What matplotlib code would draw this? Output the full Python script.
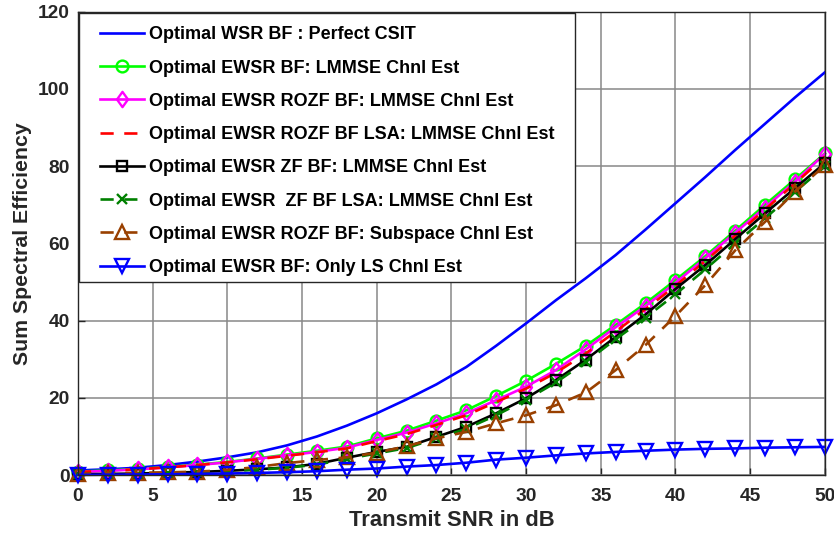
import matplotlib
matplotlib.use("Agg")
import matplotlib.pyplot as plt
from matplotlib.lines import Line2D
from matplotlib.legend_handler import HandlerLine2D
from matplotlib.patches import Rectangle
from matplotlib.path import Path
import numpy as np

plt.rcParams['font.family'] = ['Liberation Sans', 'DejaVu Sans']
plt.rcParams['font.weight'] = 'bold'

snr_db = list(range(0, 51, 2))

perfect_csit = [1.2, 1.5, 1.9, 2.6, 3.5, 4.6, 5.9, 7.7, 10.0, 12.8, 16.0, 19.6, 23.5,
                28.0, 33.5, 39.3, 45.3, 51.0, 57.0, 63.6, 70.4, 77.2, 84.2, 91.0, 97.8, 104.3]
ewsr_bf_lmmse = [0.9, 1.2, 1.6, 2.1, 2.7, 3.4, 4.3, 5.3, 6.3, 7.4, 9.5, 11.5, 14.1,
                 16.8, 20.5, 24.4, 28.8, 33.5, 38.9, 44.5, 50.5, 56.7, 63.3, 70.0, 76.6, 83.3]
ewsr_rozf_lmmse = [0.8, 1.1, 1.5, 2.0, 2.6, 3.3, 4.2, 5.1, 6.0, 7.1, 9.1, 11.0, 13.4,
                   16.0, 19.4, 22.9, 27.2, 32.6, 38.3, 43.8, 49.8, 56.2, 62.8, 69.3, 76.0, 83.2]
ewsr_rozf_lsa_lmmse = [0.8, 1.1, 1.5, 2.0, 2.6, 3.3, 4.1, 5.0, 5.9, 6.9, 8.8, 10.6, 13.0,
                       15.5, 18.9, 22.4, 26.5, 31.5, 37.2, 43.0, 49.0, 55.5, 62.0, 68.8, 75.5, 82.5]
ewsr_zf_lmmse = [0.2, 0.3, 0.4, 0.6, 0.8, 1.1, 1.5, 2.0, 2.9, 4.5, 6.0, 7.3, 9.9,
                 12.5, 16.0, 19.9, 24.6, 29.9, 35.8, 41.6, 48.2, 54.4, 61.1, 67.8, 74.3, 80.8]
ewsr_zf_lsa_lmmse = [0.2, 0.3, 0.4, 0.5, 0.7, 1.0, 1.4, 1.9, 2.7, 4.2, 5.6, 7.0, 9.5,
                     12.0, 15.5, 19.5, 24.0, 29.3, 35.2, 40.8, 46.8, 53.3, 60.0, 66.5, 73.3, 80.0]
ewsr_rozf_subspace = [0.4, 0.5, 0.6, 0.7, 0.9, 1.3, 2.1, 3.1, 3.9, 4.6, 5.8, 7.5, 9.5,
                      11.2, 13.4, 15.5, 18.1, 21.4, 27.2, 33.7, 41.2, 49.2, 58.2, 65.6, 73.4, 80.2]
ewsr_bf_ls = [0.05, 0.1, 0.15, 0.2, 0.3, 0.4, 0.55, 0.75, 1.0, 1.4, 1.7, 2.2, 2.6,
              3.2, 4.0, 4.5, 5.1, 5.6, 6.0, 6.3, 6.6, 6.8, 6.9, 7.1, 7.2, 7.3]

labels = [
    "Optimal WSR BF : Perfect CSIT",
    "Optimal EWSR BF: LMMSE Chnl Est",
    "Optimal EWSR ROZF BF: LMMSE Chnl Est",
    "Optimal EWSR ROZF BF LSA: LMMSE Chnl Est",
    "Optimal EWSR ZF BF: LMMSE Chnl Est",
    "Optimal EWSR  ZF BF LSA: LMMSE Chnl Est",
    "Optimal EWSR ROZF BF: Subspace Chnl Est",
    "Optimal EWSR BF: Only LS Chnl Est",
]

fig = plt.figure(figsize=(8.34, 5.35), dpi=100)
ax = fig.add_axes([0.0935, 0.112, 0.8955, 0.866])

# MATLAB-like tall diamond
diamond = Path([(0, 1), (0.72, 0), (0, -1), (-0.72, 0), (0, 1)],
               [Path.MOVETO, Path.LINETO, Path.LINETO, Path.LINETO, Path.CLOSEPOLY])

brown = (0.6, 0.25, 0.0)
lw = 1.9
mew = 1.7
dash = (0, (5, 4))
kw = dict(clip_on=False)
ax.plot(snr_db, perfect_csit, color=(0, 0, 1), lw=lw, label=labels[0])
ax.plot(snr_db, ewsr_bf_lmmse, color=(0, 1, 0), lw=lw, marker='o', ms=8.5, mfc='none', mew=mew, label=labels[1], **kw)
ax.plot(snr_db, ewsr_rozf_lmmse, color=(1, 0, 1), lw=lw, marker=diamond, ms=11, mfc='none', mew=mew, label=labels[2], **kw)
ax.plot(snr_db, ewsr_rozf_lsa_lmmse, color=(1, 0, 0), lw=lw, ls=dash, label=labels[3], **kw)
ax.plot(snr_db, ewsr_zf_lmmse, color='black', lw=lw, marker='s', ms=7, mfc='none', mew=mew, label=labels[4], **kw)
ax.plot(snr_db, ewsr_zf_lsa_lmmse, color=(0, 0.5, 0), lw=lw, ls=dash, marker='x', ms=7, mew=mew, label=labels[5], **kw)
ax.plot(snr_db, ewsr_rozf_subspace, color=brown, lw=lw, ls=dash, marker='^', ms=10.5, mfc='none', mew=mew, label=labels[6], **kw)
ax.plot(snr_db, ewsr_bf_ls, color=(0, 0, 1), lw=lw, marker='v', ms=10, mfc='none', mew=mew, label=labels[7], **kw)

ax.set_xlim(0, 50)
ax.set_ylim(0, 120)
ax.set_xticks(np.arange(0, 51, 5))
ax.set_yticks(np.arange(0, 121, 20))
ax.grid(True, color='#888888', lw=1.1)
ax.set_axisbelow(True)
ax.tick_params(direction='in', labelsize=13.8, width=1, length=5, colors='#262626', labelcolor='#262626')
ax.tick_params(axis='y', pad=6)
ax.tick_params(axis='x', pad=9)
for lab in ax.get_xticklabels() + ax.get_yticklabels():
    lab.set_fontweight('bold')
for s in ax.spines.values():
    s.set_color('#262626')
    s.set_linewidth(1.0)
ax.set_xlabel("Transmit SNR in dB", fontsize=15.8, fontweight='bold', color='#262626', labelpad=4)
ax.set_ylabel("Sum Spectral Efficiency", fontsize=15.3, fontweight='bold', color='#262626', labelpad=4)

# legend frame drawn as a box in axes coordinates
frame = Rectangle((0.0013, 0.417), 0.6640, 0.581, transform=ax.transAxes,
                  facecolor='white', edgecolor='#262626', lw=1.0, zorder=4, clip_on=False)
ax.add_patch(frame)

leg = ax.legend(loc='upper left', bbox_to_anchor=(0.001, 0.992), fontsize=13, frameon=False,
                labelspacing=0.9, handlelength=3.0, handletextpad=0.28, borderpad=0.6,
                borderaxespad=0, handler_map={Line2D: HandlerLine2D(xpad=0.6)})
leg.set_zorder(5)
for t in leg.get_texts():
    t.set_fontweight('bold')

fig.savefig("out.png", dpi=100)
